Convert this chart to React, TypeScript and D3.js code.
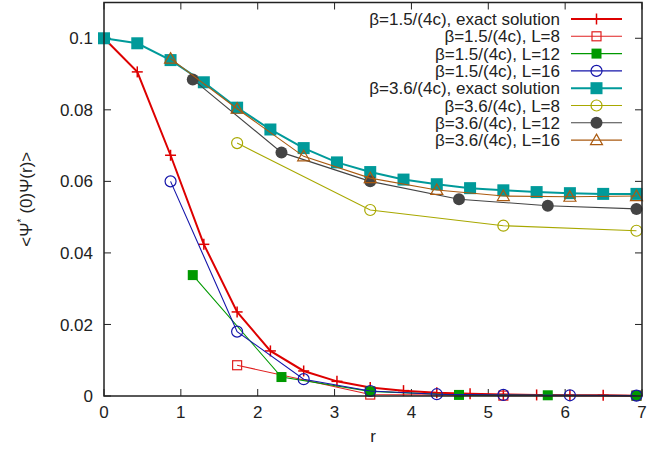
import React from "react";
import * as d3 from "d3";

const rFine = [0, 0.433, 0.866, 1.299, 1.732, 2.165, 2.598, 3.031, 3.464, 3.897, 4.33, 4.763, 5.196, 5.629, 6.062, 6.495, 6.928];
const rL16 = [0.866, 1.732, 2.598, 3.464, 4.33, 5.196, 6.062, 6.928];
const rL12 = [1.155, 2.309, 3.464, 4.619, 5.774, 6.928];
const rL8 = [1.732, 3.464, 5.196, 6.928];

const b15Exact = [0.1, 0.0906, 0.0673, 0.0424, 0.0235, 0.0126, 0.007, 0.0041, 0.0024, 0.0015, 0.0009, 0.0006, 0.0004, 0.0003, 0.0002, 0.0002, 0.0001];
const b15L8 = [0.0086, 0.0004, 0.0001, 0.0001];
const b15L12 = [0.0338, 0.0053, 0.0013, 0.0003, 0.0002, 0.0001];
const b15L16 = [0.06, 0.018, 0.0047, 0.0014, 0.0005, 0.0003, 0.0002, 0.0001];
const b36Exact = [0.1, 0.0986, 0.0939, 0.0877, 0.0806, 0.0745, 0.0693, 0.0653, 0.0626, 0.0605, 0.0592, 0.0581, 0.0575, 0.057, 0.0567, 0.0565, 0.0565];
const b36L8 = [0.0707, 0.052, 0.0476, 0.0462];
const b36L12 = [0.0885, 0.0681, 0.06, 0.055, 0.0532, 0.0523];
const b36L16 = [0.0943, 0.0803, 0.067, 0.0609, 0.0576, 0.0559, 0.0557, 0.0559];

const labels = [
  "β=1.5/(4c), exact solution",
  "β=1.5/(4c), L=8",
  "β=1.5/(4c), L=12",
  "β=1.5/(4c), L=16",
  "β=3.6/(4c), exact solution",
  "β=3.6/(4c), L=8",
  "β=3.6/(4c), L=12",
  "β=3.6/(4c), L=16",
];

const xTicks = [0, 1, 2, 3, 4, 5, 6, 7];
const yTicks = [0, 0.02, 0.04, 0.06, 0.08, 0.1];

type Sym = "plus" | "osq" | "fsq" | "oci" | "fci" | "otri";
const series: { x: number[]; y: number[]; color: string; lw: number; sym: Sym; ms: number }[] = [
  { x: rFine, y: b15Exact, color: "#dd0000", lw: 2, sym: "plus", ms: 11 },
  { x: rL8, y: b15L8, color: "#e02020", lw: 1.1, sym: "osq", ms: 9 },
  { x: rL12, y: b15L12, color: "#009900", lw: 1.1, sym: "fsq", ms: 10 },
  { x: rL16, y: b15L16, color: "#1515aa", lw: 1.1, sym: "oci", ms: 11 },
  { x: rFine, y: b36Exact, color: "#009a9a", lw: 2, sym: "fsq", ms: 12 },
  { x: rL8, y: b36L8, color: "#a8a800", lw: 1.1, sym: "oci", ms: 11 },
  { x: rL12, y: b36L12, color: "#444444", lw: 1.1, sym: "fci", ms: 12 },
  { x: rL16, y: b36L16, color: "#aa5a10", lw: 1.1, sym: "otri", ms: 12 },
];

function Marker({ sym, cx, cy, color, ms }: { sym: Sym; cx: number; cy: number; color: string; ms: number }) {
  const h = ms / 2;
  switch (sym) {
    case "plus":
      return (
        <g stroke={color} strokeWidth={1.5}>
          <line x1={cx - h} x2={cx + h} y1={cy} y2={cy} />
          <line x1={cx} x2={cx} y1={cy - h} y2={cy + h} />
        </g>
      );
    case "osq":
      return <rect x={cx - h} y={cy - h} width={ms} height={ms} fill="none" stroke={color} strokeWidth={1.2} />;
    case "fsq":
      return <rect x={cx - h} y={cy - h} width={ms} height={ms} fill={color} stroke="none" />;
    case "oci":
      return <circle cx={cx} cy={cy} r={h} fill="none" stroke={color} strokeWidth={1.2} />;
    case "fci":
      return <circle cx={cx} cy={cy} r={h} fill={color} />;
    case "otri":
      return (
        <path
          d={`M${cx},${cy - h} L${cx + h},${cy + h * 0.75} L${cx - h},${cy + h * 0.75} Z`}
          fill="none"
          stroke={color}
          strokeWidth={1.2}
        />
      );
  }
}

export default function App() {
  const W = 670, H = 453;
  const x = d3.scaleLinear().domain([0, 7]).range([104, 642]);
  const y = d3.scaleLinear().domain([0, 0.11]).range([396, 2.5]);
  const line = d3.line<[number, number]>().x((d) => x(d[0])).y((d) => y(d[1]));
  const font = "'Liberation Sans', Arial, sans-serif";
  const axisColor = "#222";
  const legX = 560, legY0 = 19, legDy = 17.3, sx1 = 571, sx2 = 622;

  return (
    <svg width={W} height={H} style={{ position: "absolute", left: 0, top: 0, background: "#fff" }} fontFamily={font}>
      <rect x={0} y={0} width={W} height={H} fill="#fff" />
      {/* ticks */}
      {xTicks.map((t) => (
        <g key={"xt" + t}>
          <line x1={x(t)} x2={x(t)} y1={y(0)} y2={y(0) - 7} stroke={axisColor} strokeWidth={1} />
          <line x1={x(t)} x2={x(t)} y1={y(0.11)} y2={y(0.11) + 7} stroke={axisColor} strokeWidth={1} />
          <text x={x(t)} y={418} fontSize={17} textAnchor="middle" fill="#222">{t}</text>
        </g>
      ))}
      {yTicks.map((t) => (
        <g key={"yt" + t}>
          <line x1={x(0)} x2={x(0) + 7} y1={y(t)} y2={y(t)} stroke={axisColor} strokeWidth={1} />
          <line x1={x(7)} x2={x(7) - 7} y1={y(t)} y2={y(t)} stroke={axisColor} strokeWidth={1} />
          <text x={93} y={y(t)} dy="0.36em" fontSize={17} textAnchor="end" fill="#222">{t === 0 ? "0" : String(t)}</text>
        </g>
      ))}
      {/* series */}
      {series.map((s, i) => {
        const pts = s.x.map((v, j) => [v, s.y[j]] as [number, number]);
        return (
          <g key={"s" + i}>
            <path d={line(pts) || ""} fill="none" stroke={s.color} strokeWidth={s.lw} />
            {pts.map((p, j) => (
              <Marker key={j} sym={s.sym} cx={x(p[0])} cy={y(p[1])} color={s.color} ms={s.ms} />
            ))}
          </g>
        );
      })}
      {/* frame */}
      <rect x={x(0)} y={y(0.11)} width={x(7) - x(0)} height={y(0) - y(0.11)} fill="none" stroke={axisColor} strokeWidth={1.5} />
      {/* legend */}
      {series.map((s, i) => {
        const ly = legY0 + i * legDy;
        return (
          <g key={"l" + i}>
            <text x={legX} y={ly} dy="0.36em" fontSize={17} textAnchor="end" fill="#222">{labels[i]}</text>
            <line x1={sx1} x2={sx2} y1={ly} y2={ly} stroke={s.color} strokeWidth={s.lw} />
            <Marker sym={s.sym} cx={(sx1 + sx2) / 2} cy={ly} color={s.color} ms={s.ms} />
          </g>
        );
      })}
      {/* axis labels */}
      <text x={x(3.5)} y={442} fontSize={17} textAnchor="middle" fill="#222">r</text>
      <text transform={`translate(32,${(y(0) + y(0.11)) / 2}) rotate(-90)`} fontSize={17} textAnchor="middle" fill="#222">
        {"<Ψ"}
        <tspan dy={-7} fontSize={11}>*</tspan>
        <tspan dy={7}>{" (0)Ψ(r)>"}</tspan>
      </text>
    </svg>
  );
}
